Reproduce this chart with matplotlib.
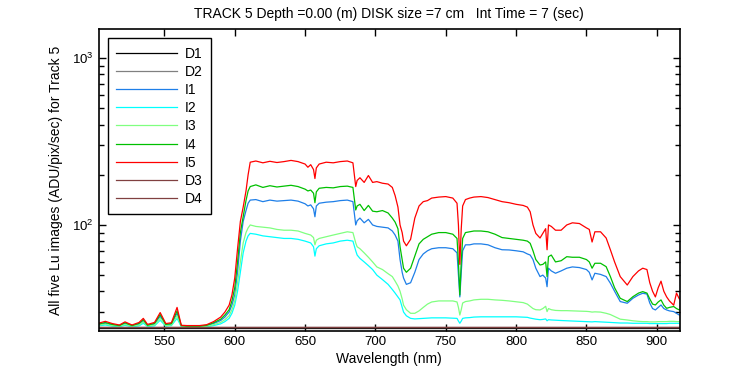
import matplotlib
matplotlib.use("Agg")
import matplotlib.pyplot as plt
from matplotlib.ticker import LogLocator, FixedLocator, NullFormatter

plt.rcParams['font.family'] = ['Liberation Sans', 'DejaVu Sans']
plt.rcParams['mathtext.default'] = 'regular'

# ---- data ----
wl = [503, 508, 513, 518, 522, 527, 532, 535, 538, 543, 547, 551, 555, 559, 562, 566, 570, 575, 580, 585,
      590, 593, 596, 598, 600, 602, 604, 606, 608, 609.5,
      611, 615, 620, 625, 630, 635, 640, 645, 650, 652, 654, 656, 657, 658, 660, 665, 670, 675, 680, 684,
      686, 687, 689, 692, 695, 698, 701, 705, 709, 712, 714, 716, 717.5,
      719, 720, 722, 725, 728, 731, 734, 737, 740, 745, 750, 755, 758, 759, 760, 761, 762, 764, 767, 770,
      775, 780, 785,
      790, 795, 800, 805, 808, 810, 812, 814, 817, 819, 821, 822, 823, 825, 828, 832, 836, 840, 845, 850,
      852, 854, 856, 860, 864, 867, 870, 874, 879, 883, 887, 890, 893, 895, 897, 899, 901, 903, 905, 907,
      909, 912, 914, 916]

I5 = [25.7, 26.4, 25.6, 25.1, 26.2, 25.1, 26.0, 27.5, 25.3, 26.0, 29.8, 25.6, 25.9, 32.0, 25.0, 24.9, 24.9, 24.9, 25.2, 26.3,
      28.0, 30.0, 33.0, 38.0, 48, 72, 105, 128, 160, 200,
      238, 242, 236, 241, 237, 240, 244, 240, 232, 222, 230, 215, 190, 220, 232, 238, 236, 240, 242, 236,
      170, 185, 192, 180, 198, 180, 182, 178, 176, 168, 150, 128, 100,
      90, 80, 75, 82, 110, 130, 138, 140, 145, 147, 148, 145, 135, 100, 58, 95, 130, 142, 145, 147,
      148, 146, 142,
      138, 136, 133, 131, 128, 120, 100, 89, 83.5, 89, 95, 71, 100, 98, 93, 93, 100, 103, 102, 96,
      94, 79, 91, 91, 83.5, 71, 60, 49, 43.6, 49, 53, 55, 54, 45, 40, 37, 42, 46, 40, 37,
      35, 33, 39, 36]

I4 = [25.4, 26.0, 25.3, 24.9, 25.9, 24.9, 25.7, 27.0, 25.0, 25.7, 29.0, 25.3, 25.6, 30.5, 24.9, 24.7, 24.7, 24.7, 25.0, 25.9,
      27.2, 28.8, 31.0, 35.0, 42, 60, 90, 112, 140, 160,
      170, 174, 168, 172, 169, 171, 173, 170, 164, 160, 162, 155, 136, 158, 166, 168, 167, 170, 171, 168,
      123, 130, 133, 122, 131, 121, 120, 122, 118, 110, 104, 95, 74,
      62, 55, 52, 55, 65, 77, 82, 85, 88, 90, 90, 88, 83, 60, 38, 60, 83, 90, 91, 92,
      92, 91, 88,
      84, 83, 82, 81, 80, 77.6, 70, 62, 57.5, 58, 60, 49, 64.5, 66, 60, 61, 64.5, 64, 64, 62,
      60, 55, 58.9, 58.9, 56.2, 49, 42, 36.3, 34.7, 37.1, 39, 39.8, 39, 36, 33.5, 33.1, 34.5, 35.5, 33, 31.6,
      32, 32.4, 31.5, 30.9]

I1 = [25.2, 25.7, 25.1, 24.8, 25.6, 24.8, 25.4, 26.6, 24.9, 25.4, 28.3, 25.1, 25.3, 29.5, 24.8, 24.6, 24.6, 24.6, 24.9, 25.6,
      26.7, 28.0, 30.0, 33.0, 38, 52, 80, 105, 122, 135,
      141, 142, 138, 141, 139, 140, 141, 139, 134, 130, 132, 125, 112, 130, 135, 137, 138, 140, 141, 138,
      100, 106, 110, 103, 108, 100, 98, 97, 96, 92, 87, 80, 62,
      52, 48, 44, 45, 52, 62, 67, 70, 72, 73, 73, 72, 68, 50, 37, 52, 70, 76, 76, 77,
      77, 76, 73,
      71, 70.8, 70, 69, 67, 66, 62, 55, 49, 50, 48, 42.6, 55, 53, 51.3, 53, 55, 56, 55.5, 54,
      52, 46.8, 51.3, 50.5, 49, 44.7, 40, 34.7, 33.9, 36.3, 38, 38.9, 38.5, 34, 31.5, 30.9, 32, 33.1, 31.5, 30.9,
      30.5, 30.2, 29.5, 28.8]

I3 = [25.0, 25.4, 24.9, 24.7, 25.3, 24.7, 25.1, 26.2, 24.8, 25.1, 27.5, 24.9, 25.1, 28.5, 24.7, 24.5, 24.5, 24.5, 24.7, 25.2,
      26.0, 27.0, 28.5, 31.0, 35, 45, 60, 78, 90, 96,
      100, 98, 97, 96, 94, 93, 93, 92, 89, 88, 87, 84, 76, 81, 83, 85, 87, 89, 91, 90,
      78, 74, 72, 68, 64, 60, 56, 54, 51, 49, 46, 43, 40,
      36, 33, 31, 29.5, 29.5, 30.5, 32, 33.5, 34.5, 35, 35, 35, 34.5, 32, 28.8, 31, 34, 34.7, 35, 35.5,
      35.8, 35.8, 35.5,
      35.3, 35, 34.6, 34.2, 33.5, 32.5, 31.5, 31, 30.9, 31.5, 32.5, 30.2, 31.5, 31, 30.7, 30.6, 30.6, 30.5, 30.4, 30.3,
      30.2, 30.0, 30.1, 30.0, 29.5, 29.0, 28.2, 27.2, 26.9, 26.6, 26.4, 26.3, 26.3, 26.2, 26.2, 26.2, 26.3, 26.3, 26.3, 26.3,
      26.4, 26.4, 26.3, 26.3]

I2 = [24.8, 25.1, 24.7, 24.5, 25.0, 24.5, 24.8, 25.7, 24.6, 24.8, 26.8, 24.7, 24.9, 27.5, 24.5, 24.4, 24.4, 24.4, 24.5, 24.9,
      25.5, 26.3, 27.5, 29.5, 33, 40, 52, 68, 80, 86,
      89, 88, 86, 85, 84, 83, 83, 82, 80, 79, 78, 74, 65, 72, 75, 77, 78, 80, 81, 80,
      70, 66, 63, 60, 57, 54, 50, 47, 44, 41, 39, 37, 35.5,
      32, 30, 28.5, 27.5, 27.3, 27.4, 27.5, 27.6, 27.7, 27.7, 27.7, 27.6, 27.5, 26.5, 25.7, 26.5, 27.5, 27.7, 27.8, 28.0,
      28.1, 28.1, 28.1,
      28.1, 28.1, 28.1, 28.0, 27.9, 27.6, 27.4, 27.2, 27.0, 27.1, 27.3, 26.6, 27.0, 26.9, 26.8, 26.7, 26.6, 26.5, 26.4, 26.3,
      26.3, 26.2, 26.3, 26.2, 26.1, 26.0, 25.9, 25.8, 25.8, 25.7, 25.7, 25.7, 25.7, 25.6, 25.6, 25.6, 25.6, 25.6, 25.6, 25.6,
      25.7, 25.7, 25.7, 25.7]

wl_dark = [503, 530, 560, 600, 640, 680, 720, 760, 800, 840, 880, 916]
D1 = [24.2, 24.2, 24.2, 24.2, 24.2, 24.2, 24.2, 24.2, 24.2, 24.2, 24.2, 24.2]
D2 = [24.25, 24.25, 24.25, 24.25, 24.25, 24.25, 24.25, 24.25, 24.25, 24.25, 24.25, 24.25]
D3 = [24.3, 24.3, 24.3, 24.3, 24.3, 24.3, 24.3, 24.3, 24.3, 24.3, 24.3, 24.3]
D4 = [24.3, 24.3, 24.3, 24.3, 24.3, 24.3, 24.3, 24.3, 24.3, 24.3, 24.3, 24.3]

x_ticks = [550, 600, 650, 700, 750, 800, 850, 900]
title = "TRACK 5 Depth =0.00 (m) DISK size =7 cm   Int Time = 7 (sec)"

# ---- figure ----
fig = plt.figure(figsize=(7.5, 3.75), dpi=100)
ax = fig.add_axes([0.1316, 0.1165, 0.7747, 0.8062])

lw = 0.9
ax.plot(wl_dark, D1, color='black', lw=lw, label='D1')
ax.plot(wl_dark, D2, color='#808080', lw=lw, label='D2')
ax.plot(wl, I1, color='#1E7FE8', lw=lw, label='I1')
ax.plot(wl, I2, color='#00FFFF', lw=lw, label='I2')
ax.plot(wl, I3, color='#80FF80', lw=lw, label='I3')
ax.plot(wl, I4, color='#00C000', lw=lw, label='I4')
ax.plot(wl, I5, color='#FF0000', lw=lw, label='I5')
ax.plot(wl_dark, D3, color='#804040', lw=lw, label='D3')
ax.plot(wl_dark, D4, color='#804040', lw=lw, label='D4')

ax.set_yscale('log')
ax.set_xlim(503.3, 916.3)
ax.set_ylim(23.0, 1500)

ax.xaxis.set_major_locator(FixedLocator(x_ticks))
ax.yaxis.set_major_locator(LogLocator(base=10, numticks=10))
ax.yaxis.set_minor_locator(LogLocator(base=10, subs=range(2, 10), numticks=20))
ax.yaxis.set_minor_formatter(NullFormatter())
ax.tick_params(which='both', direction='in', top=True, right=True, labelsize=9.5, color='black')
ax.tick_params(which='major', length=5, width=1)
ax.tick_params(which='minor', length=3.5, width=1)
for s in ax.spines.values():
    s.set_linewidth(1.2)

ax.set_title(title, fontsize=10, pad=8)
ax.set_xlabel('Wavelength (nm)', fontsize=10, labelpad=3)
ax.set_ylabel('All five Lu images (ADU/pix/sec) for Track 5', fontsize=10, labelpad=7)

leg = ax.legend(loc='upper left', bbox_to_anchor=(0.016, 0.969), borderaxespad=0,
                fontsize=10, handlelength=4.4, handletextpad=0.5, labelspacing=0.3,
                borderpad=0.6, fancybox=False, framealpha=1, edgecolor='black')
leg.get_frame().set_linewidth(1.0)

fig.savefig('out.png', dpi=100)
